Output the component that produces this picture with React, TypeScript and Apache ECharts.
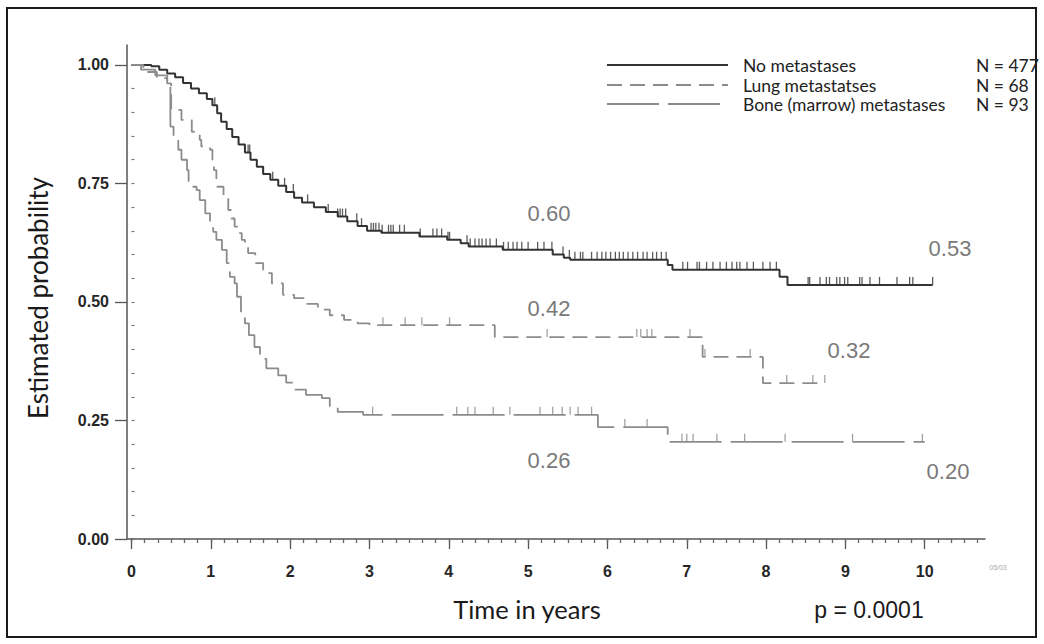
import React, { useEffect, useRef } from "react";
import * as echarts from "echarts";

// ---------- data ----------
const X_TICKS = [0, 1, 2, 3, 4, 5, 6, 7, 8, 9, 10];
const Y_TICKS = [0, 0.25, 0.5, 0.75, 1.0];
const X_MINOR_STEP = 1 / 6; // minor ticks every 2 months
const Y_MINOR_STEP = 0.05;

// No metastases: [time, survival]
const noMetCurve: number[][] = [
  [0, 1.0], [0.25, 0.997], [0.35, 0.99], [0.45, 0.982], [0.55, 0.974], [0.65, 0.962],
  [0.75, 0.95], [0.85, 0.94], [0.95, 0.928], [1.02, 0.915], [1.08, 0.898], [1.13, 0.88],
  [1.2, 0.865], [1.27, 0.848], [1.35, 0.832], [1.43, 0.815], [1.5, 0.8], [1.58, 0.785],
  [1.66, 0.77], [1.75, 0.758], [1.85, 0.745], [1.95, 0.732], [2.05, 0.72], [2.15, 0.71],
  [2.3, 0.7], [2.45, 0.69], [2.6, 0.68], [2.72, 0.67], [2.85, 0.66], [2.97, 0.65],
  [3.15, 0.646], [3.63, 0.638], [3.98, 0.631], [4.15, 0.624], [4.25, 0.617], [4.68, 0.61],
  [5.31, 0.6], [5.45, 0.593], [5.53, 0.589], [6.76, 0.578], [6.82, 0.568], [8.17, 0.553],
  [8.27, 0.536], [10.1, 0.536],
];
const noMetCensor = [
  1.05, 1.47, 1.49, 1.66, 1.78, 1.93, 2.04, 2.22, 2.48, 2.6, 2.63, 2.66, 2.7, 2.84, 2.9,
  3.02, 3.05, 3.08, 3.12, 3.16, 3.24, 3.27, 3.3, 3.38, 3.44, 3.64, 3.8, 3.85, 3.91, 3.99,
  4.01, 4.23, 4.27, 4.33, 4.38, 4.42, 4.47, 4.52, 4.6, 4.69, 4.75, 4.81, 4.86, 4.92, 5.0,
  5.12, 5.2, 5.3, 5.44, 5.52, 5.59, 5.66, 5.69, 5.8, 5.87, 5.93, 5.98, 6.04, 6.1, 6.15,
  6.2, 6.26, 6.32, 6.38, 6.45, 6.5, 6.57, 6.62, 6.68, 6.74, 6.95, 7.01, 7.13, 7.16, 7.25,
  7.33, 7.42, 7.5, 7.57, 7.63, 7.67, 7.76, 7.84, 7.96, 8.05, 8.13, 8.53, 8.55, 8.68, 8.76,
  8.8, 8.89, 8.93, 8.99, 9.03, 9.18, 9.21, 9.31, 9.43, 9.65, 9.81, 9.85, 10.1,
];

// Lung metastases
const lungCurve: number[][] = [
  [0, 1.0], [0.15, 0.985], [0.32, 0.972], [0.45, 0.961], [0.5, 0.905], [0.63, 0.884],
  [0.76, 0.859], [0.86, 0.842], [0.88, 0.828], [0.99, 0.821], [1.02, 0.8], [1.04, 0.778],
  [1.07, 0.743], [1.16, 0.722], [1.22, 0.694], [1.26, 0.676], [1.3, 0.659], [1.35, 0.645],
  [1.39, 0.631], [1.43, 0.617], [1.47, 0.603], [1.56, 0.582], [1.66, 0.561], [1.77, 0.539],
  [1.91, 0.515], [2.05, 0.508], [2.2, 0.496], [2.35, 0.484], [2.5, 0.472], [2.68, 0.462],
  [2.85, 0.455], [3.0, 0.451], [4.58, 0.426], [7.2, 0.384], [7.96, 0.329], [8.74, 0.329],
];
const lungCensor = [3.17, 3.45, 3.66, 4.01, 5.24, 6.37, 6.42, 6.5, 6.56, 7.04, 7.23, 7.8, 8.26, 8.59, 8.74];

// Bone (marrow) metastases
const boneCurve: number[][] = [
  [0, 1.0], [0.12, 0.99], [0.3, 0.978], [0.45, 0.955], [0.49, 0.87], [0.53, 0.849],
  [0.59, 0.821], [0.63, 0.8], [0.7, 0.778], [0.72, 0.743], [0.82, 0.736], [0.86, 0.715],
  [0.93, 0.687], [0.99, 0.666], [1.03, 0.648], [1.07, 0.631], [1.14, 0.61], [1.2, 0.582],
  [1.24, 0.553], [1.3, 0.539], [1.33, 0.511], [1.38, 0.48], [1.43, 0.455], [1.48, 0.43],
  [1.55, 0.405], [1.62, 0.38], [1.7, 0.36], [1.85, 0.345], [1.95, 0.33], [2.05, 0.315],
  [2.2, 0.304], [2.4, 0.297], [2.5, 0.28], [2.6, 0.268], [2.92, 0.262], [5.88, 0.236],
  [6.76, 0.205], [10.0, 0.205],
];
const boneCensor = [
  3.04, 4.1, 4.24, 4.33, 4.56, 4.77, 5.15, 5.31, 5.43, 5.53, 5.63, 5.8, 6.22, 6.5,
  6.94, 7.0, 7.08, 7.38, 7.73, 8.24, 9.09, 9.97,
];

const legendNames = ["No metastases", "Lung metastatses", "Bone (marrow) metastases"];
const legendN = ["N = 477", "N = 68", "N = 93"];
const annotations = [
  { text: "0.60", x: 549, y: 213 },
  { text: "0.53", x: 950, y: 248 },
  { text: "0.42", x: 549, y: 308 },
  { text: "0.32", x: 849, y: 350 },
  { text: "0.26", x: 549, y: 460 },
  { text: "0.20", x: 948, y: 471 },
];

// ---------- styles ----------
const DARK = "#333333";
const GRAY = "#8c8c8c";
const LUNG_DASH = [15, 8];
const BONE_DASH = [52, 9];
const X_MAX = 10.76;
const Y_MAX = 1.042;

function valueAt(curve: number[][], t: number): number {
  let v = curve[0][1];
  for (const [ct, cv] of curve) {
    if (ct <= t) v = cv;
    else break;
  }
  return v;
}

function censorData(curve: number[][], times: number[]) {
  return times.map((t) => [t, valueAt(curve, t)]);
}

function stepsUpTo(step: number, max: number): number[] {
  const out: number[] = [];
  for (let i = 0; i * step <= max + 1e-9; i++) out.push(+(i * step).toFixed(6));
  return out;
}

export default function App() {
  const ref = useRef<HTMLDivElement>(null);

  useEffect(() => {
    if (!ref.current) return;
    const chart = echarts.init(ref.current, null, { renderer: "svg" });

    const lineSeries = (name: string, data: number[][], color: string, width: number, type: any) => ({
      name,
      type: "line",
      step: "end",
      data,
      showSymbol: false,
      symbol: "none",
      lineStyle: { color, width, type },
      silent: true,
      z: 3,
    });
    const censorSeries = (name: string, data: number[][], color: string) => ({
      name: name + " censored",
      type: "scatter",
      data,
      symbol: "rect",
      symbolSize: [1.3, 8],
      symbolOffset: [0, "-50%"],
      itemStyle: { color },
      silent: true,
      z: 4,
    });

    const legendGraphics: any[] = [];
    const legendYs = [65, 85, 104];
    const legendStyles = [
      { stroke: DARK, lineWidth: 2, lineDash: null },
      { stroke: GRAY, lineWidth: 2, lineDash: LUNG_DASH },
      { stroke: GRAY, lineWidth: 2, lineDash: BONE_DASH },
    ];
    legendNames.forEach((n, i) => {
      legendGraphics.push({
        type: "line",
        shape: { x1: 607, y1: legendYs[i], x2: 728, y2: legendYs[i] },
        style: legendStyles[i],
      });
      legendGraphics.push({
        type: "text",
        x: 743,
        y: legendYs[i],
        style: { text: n, font: "17.5px Lato", fill: "#222", verticalAlign: "middle" },
      });
      legendGraphics.push({
        type: "text",
        x: 976,
        y: legendYs[i],
        style: { text: legendN[i], font: "17.5px Lato", fill: "#222", verticalAlign: "middle" },
      });
    });

    const axisColor = "#555";
    const labelStyle = {
      color: "#262626",
      fontFamily: "Liberation Sans",
      fontSize: 16,
      fontWeight: "bold",
    };

    const option: any = {
      animation: false,
      backgroundColor: "#ffffff",
      grid: { left: 131.5, right: 59, top: 45, bottom: 105, containLabel: false },
      xAxis: [
        {
          type: "value",
          min: 0,
          max: X_MAX,
          interval: 1,
          axisLine: { onZero: false, lineStyle: { color: axisColor, width: 1.5 } },
          axisTick: { length: 10, customValues: X_TICKS, lineStyle: { color: axisColor, width: 1.3 } },
          axisLabel: {
            ...labelStyle,
            customValues: X_TICKS,
            margin: 24,
            formatter: (v: number) => String(v),
          },
          splitLine: { show: false },
        },
        {
          type: "value",
          min: 0,
          max: X_MAX,
          position: "bottom",
          axisLine: { show: false },
          axisTick: {
            show: true,
            length: 4,
            customValues: stepsUpTo(X_MINOR_STEP, X_MAX),
            lineStyle: { color: "#666", width: 1.3 },
          },
          axisLabel: { show: false },
          splitLine: { show: false },
        },
      ],
      yAxis: [
        {
          type: "value",
          min: 0,
          max: Y_MAX,
          interval: 0.25,
          offset: 4.5,
          axisLine: { show: true, onZero: false, lineStyle: { color: axisColor, width: 1.5 } },
          axisTick: { show: true, length: 12, customValues: Y_TICKS, lineStyle: { color: axisColor, width: 1.3 } },
          axisLabel: {
            ...labelStyle,
            customValues: Y_TICKS,
            margin: 18,
            formatter: (v: number) => v.toFixed(2),
          },
          splitLine: { show: false },
        },
        {
          type: "value",
          min: 0,
          max: Y_MAX,
          offset: 4.5,
          position: "left",
          axisLine: { show: false },
          axisTick: {
            show: true,
            inside: true,
            length: 3,
            customValues: stepsUpTo(Y_MINOR_STEP, 1.0),
            lineStyle: { color: "#777", width: 1.2 },
          },
          axisLabel: { show: false },
          splitLine: { show: false },
        },
      ],
      series: [
        lineSeries(legendNames[0], noMetCurve, DARK, 2, "solid"),
        censorSeries(legendNames[0], censorData(noMetCurve, noMetCensor), DARK),
        lineSeries(legendNames[1], lungCurve, GRAY, 1.8, LUNG_DASH),
        censorSeries(legendNames[1], censorData(lungCurve, lungCensor), GRAY),
        lineSeries(legendNames[2], boneCurve, GRAY, 1.8, BONE_DASH),
        censorSeries(legendNames[2], censorData(boneCurve, boneCensor), GRAY),
      ],
      graphic: [
        {
          type: "rect",
          shape: { x: 7, y: 8, width: 1029, height: 629 },
          style: { fill: "none", stroke: "#1a1a1a", lineWidth: 2 },
          silent: true,
          z: 0,
        },
        {
          type: "line",
          shape: { x1: 127, y1: 539, x2: 132, y2: 539 },
          style: { stroke: axisColor, lineWidth: 1.5 },
        },
        {
          type: "text",
          x: 38,
          y: 298,
          rotation: Math.PI / 2,
          style: {
            text: "Estimated probability",
            font: "26px Lato",
            fill: "#1a1a1a",
            align: "center",
            verticalAlign: "middle",
          },
        },
        {
          type: "text",
          x: 527,
          y: 609,
          style: { text: "Time in years", font: "25.5px Lato", fill: "#1a1a1a", align: "center", verticalAlign: "middle" },
        },
        {
          type: "text",
          x: 869,
          y: 610,
          style: { text: "p = 0.0001", font: "23px 'Liberation Sans'", fill: "#1a1a1a", align: "center", verticalAlign: "middle" },
        },
        {
          type: "text",
          x: 998,
          y: 567,
          style: { text: "05/03", font: "7px 'Liberation Sans'", fill: "#aaaaaa", align: "center", verticalAlign: "middle" },
        },
        ...annotations.map((a) => ({
          type: "text",
          x: a.x,
          y: a.y,
          style: { text: a.text, font: "22px 'Liberation Sans'", fill: "#7a7a7a", align: "center", verticalAlign: "middle" },
        })),
        ...legendGraphics,
      ],
    };

    chart.setOption(option);
    return () => chart.dispose();
  }, []);

  return (
    <div
      ref={ref}
      style={{ position: "fixed", left: 0, top: 0, width: 1044, height: 644, background: "#fff" }}
    />
  );
}
